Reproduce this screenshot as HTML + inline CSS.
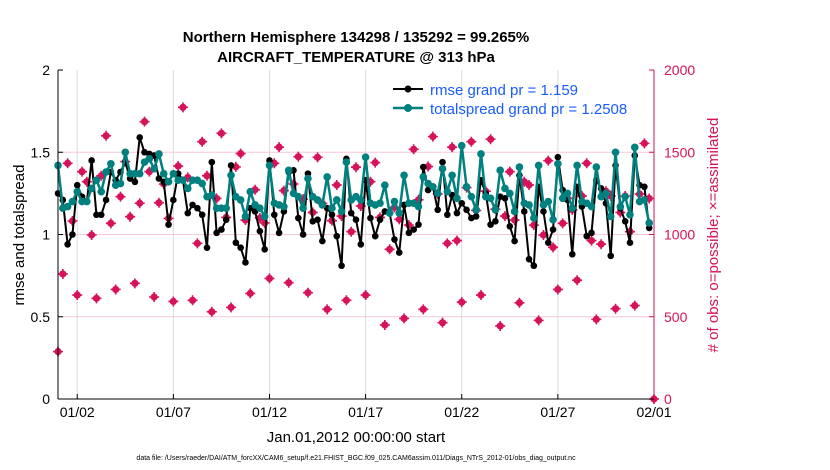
<!DOCTYPE html>
<html><head><meta charset="utf-8"><style>
body{margin:0;background:#fff;}
svg{display:block;font-family:"Liberation Sans",Arial,sans-serif;}
</style></head><body>
<svg id="chart" width="830" height="470" viewBox="0 0 830 470" xmlns="http://www.w3.org/2000/svg">
<rect width="830" height="470" fill="#fff"/>
<g id="grid"></g><g id="marks"></g><g id="axes"></g>
<text x="356" y="42" text-anchor="middle" font-size="15" font-weight="bold">Northern Hemisphere 134298 / 135292 = 99.265%</text>
<text x="356" y="62" text-anchor="middle" font-size="15" font-weight="bold">AIRCRAFT_TEMPERATURE @ 313 hPa</text>
<text transform="translate(24,235) rotate(-90)" text-anchor="middle" font-size="15">rmse and totalspread</text>
<text transform="translate(718,235) rotate(-90)" text-anchor="middle" font-size="15" fill="#d6125a"># of obs: o=possible; ×=assimilated</text>
<text x="356" y="442" text-anchor="middle" font-size="15">Jan.01,2012 00:00:00 start</text>
<text x="356" y="460" text-anchor="middle" font-size="7">data file: /Users/raeder/DAI/ATM_forcXX/CAM6_setup/f.e21.FHIST_BGC.f09_025.CAM6assim.011/Diags_NTrS_2012-01/obs_diag_output.nc</text>
<g>
<line x1="393" y1="89" x2="423" y2="89" stroke="#000" stroke-width="2"/><circle cx="408" cy="89" r="3.5"/>
<text x="430" y="95" font-size="15" fill="#1a5cff">rmse grand pr = 1.159</text>
<line x1="393" y1="108" x2="423" y2="108" stroke="#00807f" stroke-width="2.5"/><circle cx="408" cy="108" r="4" fill="#00807f"/>
<text x="430" y="114" font-size="15" fill="#1a5cff">totalspread grand pr = 1.2508</text>
</g>
</svg>
<script>
const rmse=[1.25,1.21,0.94,1.0,1.3,1.23,1.2,1.45,1.12,1.12,1.21,1.38,1.33,1.38,1.44,1.34,1.32,1.59,1.5,1.49,1.48,1.34,1.32,1.06,1.21,1.37,1.33,1.13,1.18,1.16,1.12,0.92,1.44,1.01,1.03,1.09,1.42,0.95,0.92,0.83,1.16,
1.14,1.02,0.91,1.45,1.12,1.01,1.14,1.38,1.39,1.10,1.0,1.37,1.08,1.09,0.96,1.16,1.12,0.99,0.81,1.46,1.13,1.09,0.94,1.33,1.10,0.99,1.09,1.14,1.13,0.97,0.89,1.18,1.01,1.03,1.06,1.41,1.27,1.29,1.15,1.44,1.12,1.24,
1.13,1.19,1.15,1.10,1.11,1.33,1.25,1.06,1.08,1.23,1.22,1.05,0.96,1.36,1.14,0.85,0.81,1.29,1.14,0.95,1.03,1.47,1.27,1.21,0.88,1.29,1.17,0.99,1.01,1.33,1.28,1.19,0.87,1.42,1.16,1.08,0.95,1.48,1.30,1.29,1.04];
const spread=[1.42,1.16,1.17,1.2,1.26,1.2,1.2,1.28,1.33,1.26,1.38,1.43,1.3,1.31,1.5,1.37,1.37,1.37,1.44,1.46,1.4,1.49,1.37,1.32,1.37,1.33,1.33,1.28,1.33,1.33,1.31,1.23,1.24,1.16,1.16,1.16,1.36,1.23,1.21,1.11,1.26,
1.18,1.16,1.11,1.42,1.19,1.18,1.17,1.39,1.25,1.23,1.16,1.34,1.23,1.21,1.18,1.35,1.16,1.21,1.14,1.44,1.21,1.23,1.21,1.47,1.19,1.18,1.19,1.30,1.13,1.2,1.13,1.36,1.19,1.19,1.17,1.35,1.31,1.29,1.25,1.40,1.26,1.36,
1.22,1.54,1.29,1.23,1.15,1.49,1.23,1.22,1.15,1.39,1.28,1.25,1.14,1.41,1.19,1.18,1.10,1.42,1.18,1.20,1.09,1.43,1.22,1.25,1.16,1.42,1.2,1.19,1.17,1.41,1.23,1.25,1.11,1.5,1.17,1.23,1.12,1.53,1.2,1.21,1.07];
const nobs=[288,760,1433,1082,632,1382,1321,997,612,1357,1600,1068,666,1230,1443,1108,703,1190,1686,1382,620,1193,1307,1098,593,1416,1773,1347,600,946,1564,1357,530,1219,1615,1104,557,1411,1492,1088,642,
1272,1100,1070,733,1433,1531,1267,707,1307,1473,1215,646,1134,1469,1189,545,1084,1301,1112,600,1017,1409,1173,632,1321,1437,1104,450,910,1165,1092,490,1057,1518,1211,545,1413,1595,1246,464,946,1531,
963,589,1285,1564,1146,632,1263,1579,1154,444,1112,1382,1088,585,1321,1301,1057,478,997,1449,922,666,1068,1220,1150,722,1234,1433,963,484,941,1263,1234,549,1134,1234,1017,568,1246,1554,1219,0];
const xTickLabels=["01/02","01/07","01/12","01/17","01/22","01/27","02/01"];
const xTickDays=[1,6,11,16,21,26,31];
const yTicks=[0,0.5,1,1.5,2];
const rTicks=[0,500,1000,1500,2000];
const X0=58,X1=654,Y0=399,Y1=70;
const xs=d=>X0+(X1-X0)*d/31;
const ys=v=>Y0-(Y0-Y1)*v/2;
const yr=n=>Y0-(Y0-Y1)*n/2000;
const NS="http://www.w3.org/2000/svg";
function mk(tag,attrs,parent){const e=document.createElementNS(NS,tag);for(const k in attrs)e.setAttribute(k,attrs[k]);parent.appendChild(e);return e;}
const grid=document.getElementById('grid'),marks=document.getElementById('marks'),axes=document.getElementById('axes');
xTickDays.forEach((d,i)=>{
 const g=mk('line',{x1:xs(d),x2:xs(d),y1:Y1,y2:Y0,stroke:'#dcdcdc','stroke-width':1},grid);
 
 
 mk('line',{x1:xs(d),x2:xs(d),y1:Y0,y2:Y0-5,stroke:'#000'},axes);
 const t=mk('text',{x:xs(d),y:Y0+18,'text-anchor':'middle','font-size':14},axes);t.textContent=xTickLabels[i];
 
 
});
rTicks.forEach(n=>{
 if(n>0&&n<2000){const g=mk('line',{x1:X0,x2:X1,y1:yr(n),y2:yr(n),stroke:'#f8c8da','stroke-width':1},grid);
 
 }
 mk('line',{x1:X1,x2:X1-5,y1:yr(n),y2:yr(n),stroke:'#d6125a'},axes);
 const t=mk('text',{x:X1+10,y:yr(n)+5,'font-size':14,fill:'#d6125a'},axes);t.textContent=n;
 
 
});
yTicks.forEach(v=>{
 mk('line',{x1:X0,x2:X0+5,y1:ys(v),y2:ys(v),stroke:'#000'},axes);
 const t=mk('text',{x:X0-8,y:ys(v)+5,'text-anchor':'end','font-size':14},axes);t.textContent=v;
 
 
});
mk('line',{x1:X0,x2:X0,y1:Y1,y2:Y0,stroke:'#000'},axes);
mk('line',{x1:X0,x2:X1,y1:Y0,y2:Y0,stroke:'#000'},axes);
mk('line',{x1:X1,x2:X1,y1:Y1,y2:Y0,stroke:'#d6125a'},axes);
nobs.forEach((n,i)=>{
 const x=xs(i*0.25),y=yr(n);
 const g=mk('g',{},marks);
 
 
 mk('circle',{cx:x,cy:y,r:3.6,fill:'#d6125a'},g);
 mk('path',{d:`M${x-5} ${y}H${x+5}M${x} ${y-5}V${y+5}`,stroke:'#d6125a','stroke-width':1.6},g);
});
function series(arr,color,lw,r,name){
 const pts=arr.map((v,i)=>xs(i*0.25)+','+ys(v)).join(' ');
 const pl=mk('polyline',{points:pts,fill:'none',stroke:color,'stroke-width':lw,'stroke-linejoin':'round'},marks);
 
 
 arr.forEach((v,i)=>{const c=mk('circle',{cx:xs(i*0.25),cy:ys(v),r:r,fill:color},marks);
 
 });
}
series(rmse,'#000',2,3.3,'rmse');
series(spread,'#00807f',2.5,3.8,'totalspread');
</script>
</body></html>
